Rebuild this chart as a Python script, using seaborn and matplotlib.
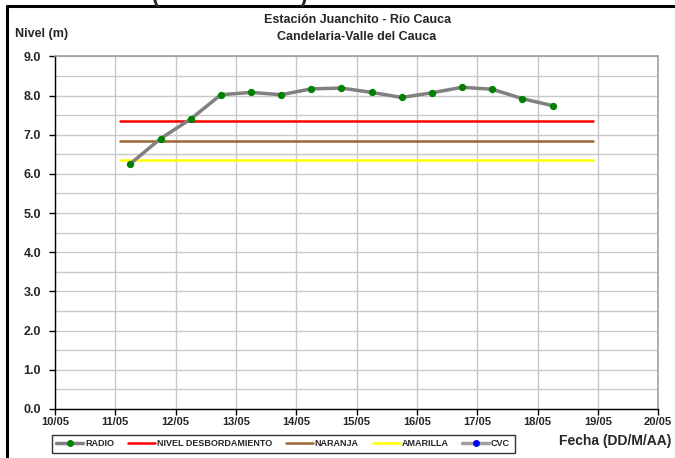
import pandas as pd
import numpy as np
import matplotlib
matplotlib.use("Agg")
import matplotlib.pyplot as plt
import matplotlib.dates as mdates
from matplotlib.lines import Line2D
import seaborn as sns

# lecturas RADIO (cada 12 horas)
fechas = pd.date_range("2011-05-11 06:00", periods=15, freq="12h")
nivel_radio = [6.26, 6.90, 7.40, 8.02, 8.08, 8.02, 8.17, 8.19, 8.08, 7.95,
               8.07, 8.21, 8.16, 7.92, 7.74]

# umbrales
umbral_nombres = ["NIVEL DESBORDAMIENTO", "NARANJA", "AMARILLA"]
umbral_valores = [7.36, 6.85, 6.35]
umbral_colores = ["#FF0000", "#996633", "#FFFF00"]
umbral_inicio = pd.Timestamp("2011-05-11 02:00")
umbral_fin = pd.Timestamp("2011-05-18 22:00")

x_min = pd.Timestamp("2011-05-10")
x_max = pd.Timestamp("2011-05-20")

sns.set_style("white")
plt.rcParams['font.family'] = ['Liberation Sans', 'DejaVu Sans']
plt.rcParams['font.weight'] = 'bold'

fig = plt.figure(figsize=(6.75, 4.58), dpi=100)
ax = fig.add_axes([0.0815, 0.107, 0.8935, 0.770])

df = pd.DataFrame({"fecha": fechas, "nivel": nivel_radio})
sns.lineplot(data=df, x="fecha", y="nivel", ax=ax, color="#808080", linewidth=2.5,
             marker="o", markersize=4.5, markerfacecolor="#008000",
             markeredgecolor="#008000", zorder=5)

for nombre, valor, color in zip(umbral_nombres, umbral_valores, umbral_colores):
    d = pd.DataFrame({"fecha": [umbral_inicio, umbral_fin], "nivel": [valor, valor]})
    sns.lineplot(data=d, x="fecha", y="nivel", ax=ax, color=color, linewidth=1.8, zorder=3)

ax.set_xlim(x_min, x_max)
ax.set_ylim(0, 9)
ax.set_yticks(np.arange(0, 9.01, 1.0))
ax.set_yticks(np.arange(0, 9.01, 0.5), minor=True)
ax.yaxis.set_major_formatter(matplotlib.ticker.FormatStrFormatter("%.1f"))
ax.xaxis.set_major_locator(mdates.DayLocator())
ax.xaxis.set_major_formatter(mdates.DateFormatter("%d/%m"))
ax.grid(True, which="both", color="#C8C8C8", linewidth=1.0)
ax.set_axisbelow(True)
ax.set_xlabel("")
ax.set_ylabel("")
ax.tick_params(axis="y", which="major", labelsize=9, length=4, width=1, color="black", pad=6, left=True)
ax.tick_params(axis="y", which="minor", length=0)
ax.tick_params(axis="x", labelsize=8, length=4, width=1, color="black", pad=2, bottom=True)
for lbl in ax.get_xticklabels() + ax.get_yticklabels():
    lbl.set_fontweight("bold")
for s in ["top", "right"]:
    ax.spines[s].set_color("#A0A0A0")
    ax.spines[s].set_linewidth(1.2)
for s in ["left", "bottom"]:
    ax.spines[s].set_color("black")
    ax.spines[s].set_linewidth(1.0)

fig.text(0.529, 0.956, "Estación Juanchito - Río Cauca", ha="center", va="center",
         fontsize=9, fontweight="bold")
fig.text(0.529, 0.919, "Candelaria-Valle del Cauca", ha="center", va="center",
         fontsize=9, fontweight="bold")
fig.text(0.022, 0.926, "Nivel (m)", ha="left", va="center", fontsize=9, fontweight="bold")
fig.text(0.995, 0.037, "Fecha (DD/M/AA)", ha="right", va="center", fontsize=10, fontweight="bold")
fig.text(0.34, 1.008, "(                       )", ha="center", va="center",
         fontsize=16, fontweight="bold")

handles = [
    Line2D([], [], color="#808080", linewidth=2.5, marker="o", markersize=4,
           markerfacecolor="#008000", markeredgecolor="#008000"),
    Line2D([], [], color=umbral_colores[0], linewidth=1.8),
    Line2D([], [], color=umbral_colores[1], linewidth=1.8),
    Line2D([], [], color=umbral_colores[2], linewidth=1.8),
    Line2D([], [], color="#A0A0A0", linewidth=2.5, marker="o", markersize=4,
           markerfacecolor="#0000FF", markeredgecolor="#0000FF"),
]
labels = ["RADIO"] + umbral_nombres + ["CVC"]
leg = fig.legend(handles, labels, loc="center", ncol=5, mode="expand",
                 bbox_to_anchor=(0.07, 0.004, 0.699, 0.055), frameon=True,
                 fancybox=False, edgecolor="black",
                 handlelength=3.0, handletextpad=0.2, borderpad=0.5,
                 columnspacing=1.0, prop={"size": 6.5, "weight": "bold"})
leg.get_frame().set_linewidth(1.0)

# marco exterior
fig.add_artist(Line2D([0.0104, 0.0104], [0.0, 0.987], transform=fig.transFigure,
                      color="black", linewidth=2.2))
fig.add_artist(Line2D([0.0104, 1.0], [0.987, 0.987], transform=fig.transFigure,
                      color="black", linewidth=2.2))

plt.savefig("out.png", dpi=100)
